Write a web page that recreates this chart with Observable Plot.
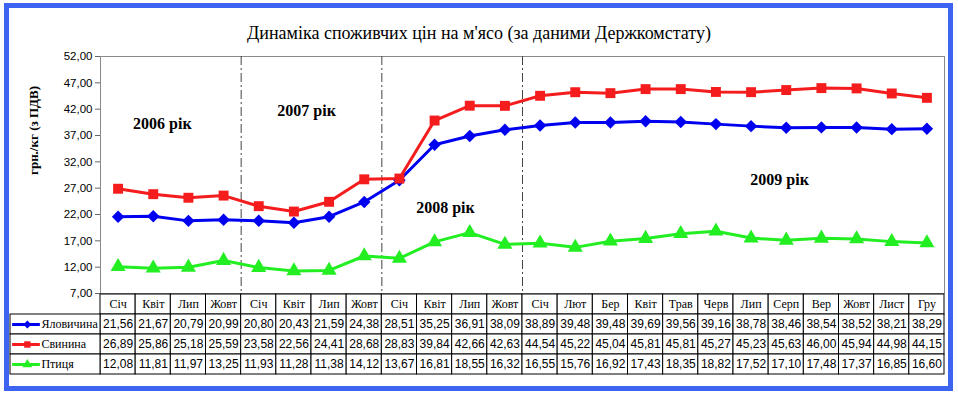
<!DOCTYPE html>
<html>
<head>
<meta charset="utf-8">
<script src="https://cdn.jsdelivr.net/npm/d3@7"></script>
<script src="https://cdn.jsdelivr.net/npm/@observablehq/plot@0.6"></script>
<style>
  html, body { margin: 0; padding: 0; background: #fff; }
  #wrap { position: relative; width: 958px; height: 395px; overflow: hidden; background: #fff; }
  #frame { position: absolute; left: 4px; top: 3px; width: 949px; height: 388px; box-sizing: border-box; border: 5px solid #3c64f0; }
  #title { position: absolute; left: 0; width: 958px; top: 23px; line-height: 20px; text-align: center;
           font-family: "Liberation Serif", serif; font-size: 18px; color: #000; }
  #chart { position: absolute; left: 0; top: 0; }
  #table { position: absolute; left: 0; top: 292px; }
</style>
</head>
<body>
<div id="wrap">
  <div id="frame"></div>
  <div id="title">Динаміка споживчих цін на м'ясо (за даними Держкомстату)</div>
  <div id="chart"></div>
  <div id="table"></div>
</div>
<script>
// ---- data ----
const months = ["Січ","Квіт","Лип","Жовт","Січ","Квіт","Лип","Жовт","Січ","Квіт","Лип","Жовт",
                "Січ","Лют","Бер","Квіт","Трав","Черв","Лип","Серп","Вер","Жовт","Лист","Гру"];
const seriesNames = ["Яловичина","Свинина","Птиця"];
const beef    = [21.56,21.67,20.79,20.99,20.80,20.43,21.59,24.38,28.51,35.25,36.91,38.09,38.89,39.48,39.48,39.69,39.56,39.16,38.78,38.46,38.54,38.52,38.21,38.29];
const pork    = [26.89,25.86,25.18,25.59,23.58,22.56,24.41,28.68,28.83,39.84,42.66,42.63,44.54,45.22,45.04,45.81,45.81,45.27,45.23,45.63,46.00,45.94,44.98,44.15];
const poultry = [12.08,11.81,11.97,13.25,11.93,11.28,11.38,14.12,13.67,16.81,18.55,16.32,16.55,15.76,16.92,17.43,18.35,18.82,17.52,17.10,17.48,17.37,16.85,16.60];
const yearLabels = ["2006 рік","2007 рік","2008 рік","2009 рік"];
const yTicks = [7,12,17,22,27,32,37,42,47,52];
const yLabel = "грн./кг (з ПДВ)";

// ---- derived tables ----
const values = [beef, pork, poultry];
const long = seriesNames.flatMap((name, s) => values[s].map((v, i) => ({name, i, v})));
const yearStarts = months.map((m, i) => i).filter(i => i > 0 && months[i] === "Січ");
const fmt = v => v.toFixed(2).replace(".", ",");

// annotation positions (data coordinates)
const yearPos = [[1.76, 39.3], [5.86, 41.6], [9.81, 23.3], [19.31, 28.65]];
const yearAnn = yearLabels.map((t, k) => ({t, x: yearPos[k][0], y: yearPos[k][1]}));

const colorScale = {domain: seriesNames, range: ["#0000f0", "#f41c1c", "#22ee22"]};
const symbolScale = {domain: seriesNames, range: ["diamond2", "square", "triangle"]};
const serif = "Liberation Serif";
const sans = "Liberation Sans";

const chart = Plot.plot({
  width: 958, height: 302,
  marginTop: 56, marginBottom: 9, marginLeft: 100, marginRight: 14,
  style: {fontFamily: sans, fontSize: "11.5px", background: "transparent", color: "#000", overflow: "visible"},
  x: {domain: [0, months.length], axis: null},
  y: {domain: [7, 52]},
  color: colorScale,
  symbol: symbolScale,
  marks: [
    Plot.frame({stroke: "#8a8a8a"}),
    Plot.ruleX(yearStarts, {stroke: "#444", strokeDasharray: "9,3,2,3"}),
    Plot.axisY({ticks: yTicks, tickFormat: fmt, tickSize: 5, tickPadding: 3, stroke: "#666", label: null}),
    Plot.line(long, {x: d => d.i + 0.5, y: "v", z: "name", stroke: "name", strokeWidth: 3}),
    Plot.dot(long, {x: d => d.i + 0.5, y: "v", symbol: "name", fill: "name", r: 5.6}),
    Plot.text(yearAnn, {x: "x", y: "y", text: "t", fontFamily: serif, fontWeight: "bold", fontSize: 16, fill: "#000"}),
    Plot.text([yLabel], {frameAnchor: "left", dx: -67, rotate: -90, text: d => d, fontFamily: serif, fontWeight: "bold", fontSize: 13, fill: "#000"})
  ]
});
document.getElementById("chart").appendChild(chart);

// ---- data table (shares the month x positions) ----
const legendW = 90 / (844 / months.length);
const hdrCells = months.map((m, i) => ({row: "hdr", x1: i, x2: i + 1, t: m}));
const valCells = seriesNames.flatMap((name, s) => values[s].map((v, i) => ({row: name, x1: i, x2: i + 1, t: fmt(v)})));
const legCells = seriesNames.map(name => ({row: name, x1: -legendW, x2: 0}));

const table = Plot.plot({
  width: 958, height: 83,
  marginTop: 1, marginBottom: 1, marginLeft: 10, marginRight: 14,
  style: {fontFamily: sans, fontSize: "12px", background: "transparent", color: "#000"},
  x: {domain: [-legendW, months.length], axis: null},
  y: {domain: ["hdr", ...seriesNames], padding: 0, axis: null},
  color: colorScale,
  symbol: symbolScale,
  marks: [
    Plot.barX([...hdrCells, ...valCells, ...legCells], {x1: "x1", x2: "x2", y: "row", fill: "white", stroke: "#000", strokeWidth: 1}),
    Plot.text(hdrCells, {x: d => d.x1 + 0.5, y: "row", text: "t", fontFamily: serif, fontSize: 12, fill: "#000"}),
    Plot.text(valCells, {x: d => d.x1 + 0.5, y: "row", text: "t", fontFamily: sans, fontSize: 12, fill: "#000"}),
    Plot.ruleY(seriesNames, {y: d => d, x1: -legendW + 0.06, x2: -1.71, stroke: d => d, strokeWidth: 3}),
    Plot.dot(seriesNames, {x: -2.08, y: d => d, symbol: d => d, fill: d => d, r: 3.6}),
    Plot.text(seriesNames, {x: -1.68, y: d => d, text: d => d, textAnchor: "start", fontFamily: serif, fontSize: 12, fill: "#000"})
  ]
});
document.getElementById("table").appendChild(table);
</script>
</body>
</html>
